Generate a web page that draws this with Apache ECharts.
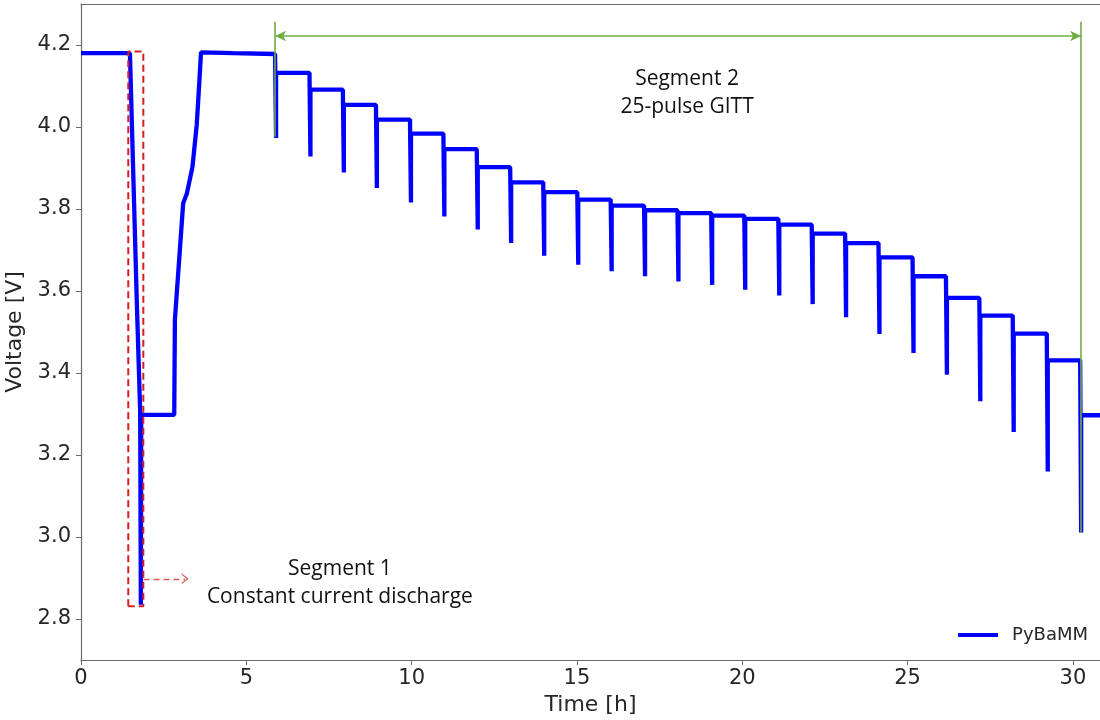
<!DOCTYPE html>
<html><head><meta charset="utf-8">
<script src="https://cdn.jsdelivr.net/npm/echarts@6/dist/echarts.min.js"></script>
<style>html,body{margin:0;padding:0;background:#fff}#chart{width:1100px;height:720px}</style>
</head><body><div id="chart"></div>
<script>
// ---- axis ticks ----
const xTicks = [0, 5, 10, 15, 20, 25, 30];
const yTicks = [2.8, 3.0, 3.2, 3.4, 3.6, 3.8, 4.0, 4.2];
const xRange = [0, 30.82];
const yRange = [2.7, 4.3];

// ---- segment 1 (CC discharge), rest, charge, rest ----
const prepTime = [0, 1.48, 1.69, 1.79, 1.81, 1.82, 2.82, 2.84, 3.09, 3.20, 3.37, 3.50, 3.57, 3.63, 4.60, 5.87];
const prepVolt = [4.180, 4.180, 3.567, 3.306, 2.835, 3.298, 3.298, 3.530, 3.814, 3.837, 3.902, 4.005, 4.098, 4.182, 4.180, 4.178];

// ---- segment 2 (25-pulse GITT) ----
const pulseTime = [5.87, 6.91, 7.92, 8.92, 9.95, 10.96, 11.97, 12.98, 13.98, 15.01, 16.02, 17.03, 18.04, 19.06, 20.06, 21.09, 22.10, 23.11, 24.12, 25.15, 26.16, 27.17, 28.18, 29.21, 30.22];
const pulseMin  = [3.973, 3.928, 3.889, 3.851, 3.816, 3.782, 3.750, 3.717, 3.686, 3.664, 3.648, 3.636, 3.623, 3.615, 3.603, 3.589, 3.568, 3.536, 3.495, 3.449, 3.396, 3.331, 3.256, 3.160, 3.011];
const restLevel = [4.132, 4.091, 4.054, 4.018, 3.984, 3.946, 3.902, 3.865, 3.841, 3.823, 3.808, 3.797, 3.790, 3.784, 3.776, 3.762, 3.740, 3.717, 3.682, 3.636, 3.583, 3.540, 3.496, 3.431, 3.297];
const pulseWidth = 0.03;

// ---- annotations (data coordinates) ----
const seg1Box = [[1.43, 2.831], [1.43, 4.184], [1.885, 4.184], [1.885, 2.831], [1.43, 2.831]];
const seg1Arrow = [[1.89, 2.898], [3.15, 2.898]];
const seg2Arrow = [[5.87, 4.222], [30.25, 4.222]];
const seg2LeftBar = [[5.87, 4.257], [5.87, 3.976]];
const seg2RightBar = [[30.25, 4.257], [30.25, 3.01]];
const seg1Text = { pos: [7.83, 2.887], text: 'Segment 1\nConstant current discharge' };
const seg2Text = { pos: [18.33, 4.082], text: 'Segment 2\n25-pulse GITT' };

// build voltage curve
const curve = prepTime.map((t, i) => [t, prepVolt[i]]);
let prev = prepVolt[prepVolt.length - 1];
for (let i = 0; i < pulseTime.length; i++) {
  curve.push([pulseTime[i], prev]);
  curve.push([pulseTime[i] + pulseWidth, pulseMin[i]]);
  curve.push([pulseTime[i] + pulseWidth, restLevel[i]]);
  prev = restLevel[i];
}
curve.push([xRange[1], prev]);

const axisGray = '#6b6b6b';
const tickFont = { fontFamily: 'DejaVu Sans', fontSize: 21, color: '#262626' };
const annFont = { fontFamily: 'Open Sans', fontSize: 21, color: '#111111', lineHeight: 28 };
const green = '#70ad47';

const chart = echarts.init(document.getElementById('chart'), null, { renderer: 'canvas' });
chart.setOption({
  animation: false,
  backgroundColor: '#fff',
  grid: { left: 81, right: 0, top: 4, bottom: 60, containLabel: false, outerBoundsMode: 'none' },
  legend: {
    data: ['PyBaMM'], right: 7, top: 621, icon: 'rect', itemWidth: 40, itemHeight: 4,
    textStyle: { fontFamily: 'DejaVu Sans', fontSize: 18, color: '#262626', padding: [0, 0, 0, 9] }
  },
  xAxis: [{
    type: 'value', min: xRange[0], max: xRange[1],
    name: 'Time [h]', nameLocation: 'middle', nameGap: 32,
    nameTextStyle: { fontFamily: 'DejaVu Sans', fontSize: 22, color: '#262626' },
    axisLine: { show: true, lineStyle: { color: axisGray, width: 1.2 } },
    axisTick: { show: true, length: 5, lineStyle: { color: axisGray }, customValues: xTicks },
    axisLabel: { ...tickFont, margin: 8, customValues: xTicks, formatter: v => String(v) },
    splitLine: { show: false }
  }, {
    type: 'value', position: 'top', min: xRange[0], max: xRange[1],
    axisLine: { show: true, lineStyle: { color: axisGray, width: 1.2 } },
    axisTick: { show: false }, axisLabel: { show: false }, splitLine: { show: false }
  }],
  yAxis: {
    type: 'value', min: yRange[0], max: yRange[1],
    name: 'Voltage [V]', nameLocation: 'middle', nameGap: 48, nameRotate: 90,
    nameTextStyle: { fontFamily: 'DejaVu Sans', fontSize: 22, color: '#262626' },
    axisLine: { show: true, lineStyle: { color: axisGray, width: 1.2 } },
    axisTick: { show: true, length: 5, lineStyle: { color: axisGray }, customValues: yTicks },
    axisLabel: { ...tickFont, margin: 10, customValues: yTicks, formatter: v => v.toFixed(1) },
    splitLine: { show: false }
  },
  series: [
    {
      name: 'PyBaMM', type: 'line', data: curve, showSymbol: false, symbol: 'none',
      lineStyle: { color: '#0000ff', width: 4.3 }, itemStyle: { color: '#0000ff' },
      z: 2, silent: true
    },
    {
      name: 'seg1box', type: 'line', data: seg1Box, showSymbol: false, symbol: 'none',
      lineStyle: { color: '#d62020', width: 2, type: [7, 4] }, z: 3, silent: true
    },
    {
      name: 'ann', type: 'line', data: [], z: 4, silent: true,
      markLine: {
        silent: true, animation: false, label: { show: false }, emphasis: { disabled: true },
        data: [
          [{ coord: seg1Arrow[0], symbol: 'none', lineStyle: { color: '#e05a50', width: 1.4, type: [6, 4] } },
           { coord: seg1Arrow[1], symbol: 'path://M0,10 L5,0 L10,10 L8.6,10 L5,2.8 L1.4,10 Z', symbolSize: [11, 7] }],
          [{ coord: seg2Arrow[0], symbol: 'arrow', symbolSize: [8, 11], lineStyle: { color: green, width: 1.5, type: 'solid' } },
           { coord: seg2Arrow[1], symbol: 'arrow', symbolSize: [8, 11] }],
          [{ coord: seg2LeftBar[0], symbol: 'none', lineStyle: { color: green, width: 1.6, type: 'solid' } },
           { coord: seg2LeftBar[1], symbol: 'none' }],
          [{ coord: seg2RightBar[0], symbol: 'none', lineStyle: { color: green, width: 1.6, type: 'solid' } },
           { coord: seg2RightBar[1], symbol: 'none' }]
        ]
      }
    },
    {
      name: 'labels', type: 'scatter', symbolSize: 0, silent: true, z: 5,
      itemStyle: { opacity: 1, color: '#111111' },
      data: [
        { value: seg1Text.pos, label: { show: true, position: 'inside', formatter: seg1Text.text, ...annFont } },
        { value: seg2Text.pos, label: { show: true, position: 'inside', formatter: seg2Text.text, ...annFont } }
      ]
    }
  ]
});
</script>
</body></html>
